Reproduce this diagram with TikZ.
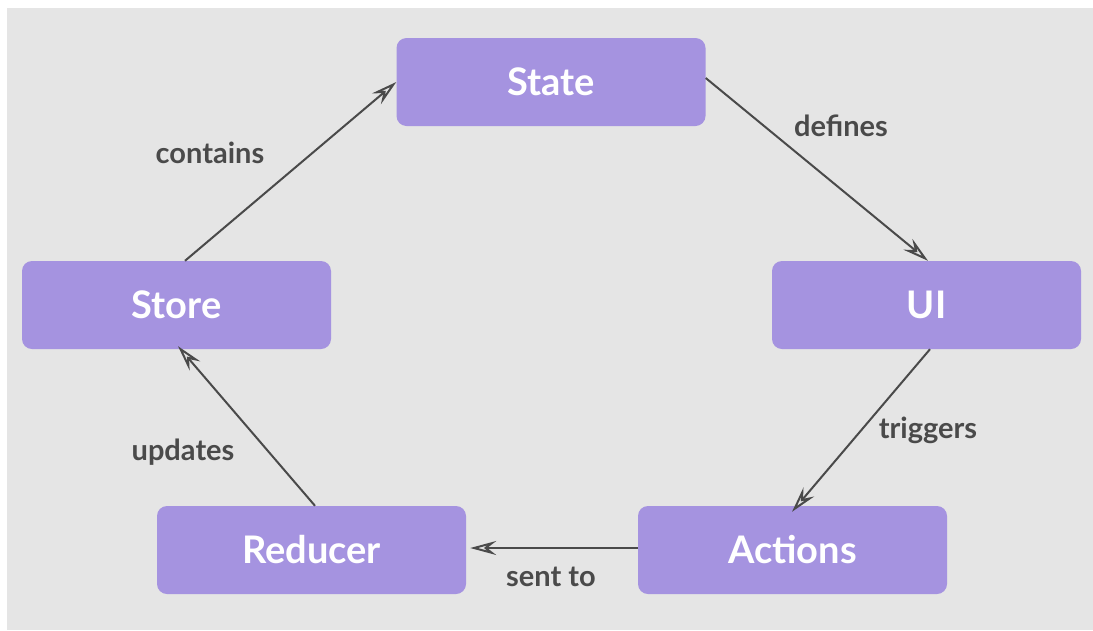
\documentclass[tikz,border=0pt]{standalone}
\usepackage{fontspec}
\setmainfont{Lato}
\usetikzlibrary{arrows.meta}
\definecolor{bg}{HTML}{E5E5E5}
\definecolor{boxfill}{HTML}{A593E0}
\definecolor{edge}{HTML}{4A4A4A}
\begin{document}
\begin{tikzpicture}[x=1pt,y=-1pt,
  box/.style={rectangle, rounded corners=10pt, fill=boxfill, minimum width=309pt, minimum height=88pt, inner sep=0pt, text=white, font=\fontsize{38}{44}\selectfont\bfseries},
  conn/.style={draw=edge, line width=2pt, -{Stealth[open, length=26pt, width=14pt, inset=9pt]}},
  lbl/.style={text=edge, font=\fontsize{29}{34}\selectfont\bfseries, inner sep=0pt}]
\useasboundingbox (0,0) rectangle (1093,630);
\fill[white] (0,0) rectangle (1093,630);
\fill[bg] (7,8) rectangle (1093,630);
\node[box] (state) at (551,82) {State};
\node[box] (ui) at (926.5,305) {UI};
\node[box] (actions) at (792.5,550) {Actions};
\node[box] (reducer) at (311.5,550) {Reducer};
\node[box] (store) at (176.5,305) {Store};
\coordinate (a1s) at (185,260);
\coordinate (a1e) at (392,82);
\draw[conn] (store.north -| a1s) -- (state.west |- a1e);
\draw[conn] (state.east |- 0,78) -- (ui.north -| 928,0);
\draw[conn] (ui.south -| 930,0) -- ([yshift=-6pt]actions.north -| 792,0);
\draw[conn] (actions.west |- 0,548) -- ([xshift=4pt]reducer.east |- 0,548);
\draw[conn] (reducer.north -| 315,0) -- ([yshift=3pt]store.south -| 178,0);
\node[lbl] (l1) at (210,153) {contains};
\node[lbl] (l2) at (841,126) {defines};
\node[lbl] (l3) at (928,430) {triggers};
\node[lbl] (l4) at (551,577) {sent to};
\node[lbl] (l5) at (183,452) {updates};
\end{tikzpicture}
\end{document}
